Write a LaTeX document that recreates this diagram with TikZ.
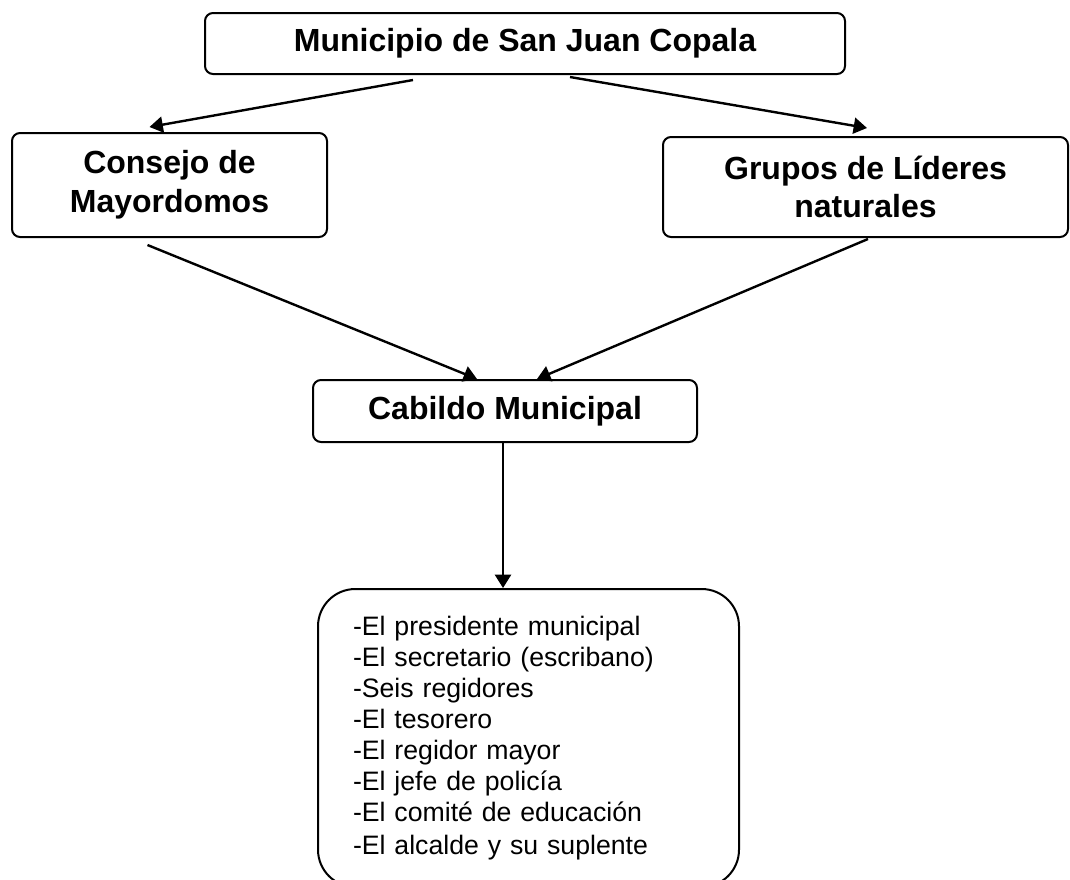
\documentclass[tikz,border=0pt]{standalone}
\usepackage{fontspec}
\setmainfont{Liberation Sans}
\usetikzlibrary{arrows.meta, positioning, calc}
\tikzstyle{textblock} = [draw, line width=1.5pt, rounded corners=6pt, align=center, font=\fontsize{24}{29}\selectfont\bfseries]
\tikzstyle{listblock} = [draw, line width=1.5pt, rounded corners=28pt, align=left, font=\fontsize{20}{23.25}\selectfont]
\tikzstyle{arrow} = [line width=1.8pt,-{Triangle[length=10pt,width=12pt]}]

\begin{document}
\begin{tikzpicture}[x=0.75pt,y=-0.75pt]
        \useasboundingbox (0,0) rectangle (1070,879);

        % Municipio
        \node[textblock, minimum width=480pt, minimum height=45.75pt] (muni) at (525,43.5) {Municipio de San Juan Copala};

        % Consejo and Grupos
        \node[textblock, minimum width=236.25pt, minimum height=78pt] (consejo) at (169.5,185) {Consejo de\\Mayordomos};
        \node[textblock, minimum width=303.75pt, minimum height=75pt] (grupos) at (865.5,187) {Grupos de Líderes\\naturales};

        % Cabildo
        \node[textblock, minimum width=288pt, minimum height=46.5pt] (cabildo) at (505,411) {Cabildo Municipal};

        % Cargos
        \node[listblock, minimum height=223.5pt, inner xsep=26.25pt, text width=263.25pt] (cargos) at (528.5,738) {-El presidente municipal\\-El secretario (escribano)\\-Seis regidores\\-El tesorero\\-El regidor mayor\\-El jefe de policía\\-El comité de educación\\[1.5pt]-El alcalde y su suplente};

        % Arrows
        \coordinate (drop) at ($(cabildo.south)+(-2,0)$);
        \draw[arrow] ($(muni.south)+(-112,5)$) -- ($(consejo.north)+(-20,-5)$);
        \draw[arrow] ($(muni.south)+(45,2)$) -- ($(grupos.north)+(1.5,-8)$);
        \draw[arrow] ($(consejo.south)+(-22,7)$) -- ($(cabildo.north)+(-28,0)$);
        \draw[arrow] ($(grupos.south)+(2.5,1)$) -- ($(cabildo.north)+(32,0)$);
        \draw[arrow] (drop) -- (drop |- cargos.north);
    \end{tikzpicture}
\end{document}
